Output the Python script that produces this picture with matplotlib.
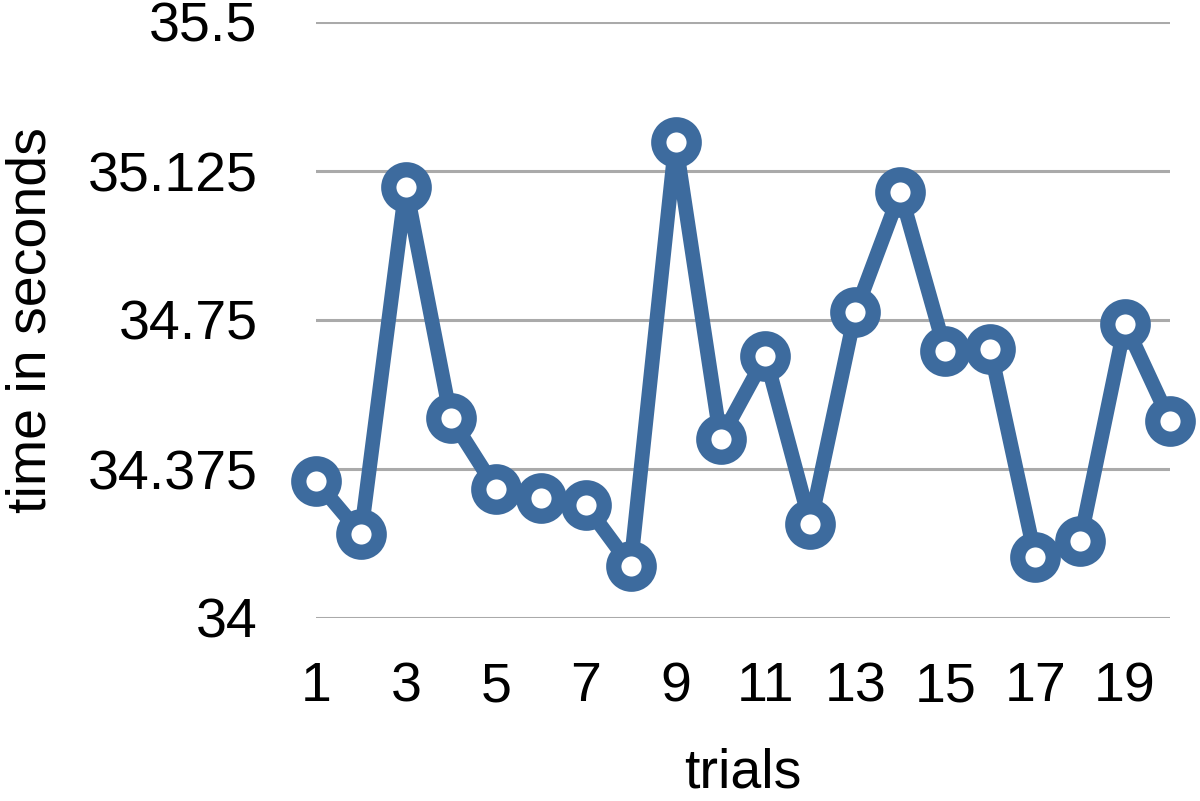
import numpy as np
import matplotlib.pyplot as plt

# ---------------- data ----------------
trials = list(range(1, 21))
times = [34.345, 34.211, 35.085, 34.503, 34.325, 34.302, 34.284, 34.131, 35.198, 34.451,
         34.659, 34.237, 34.770, 35.072, 34.672, 34.677, 34.154, 34.194, 34.740, 34.496]
yticks = [34, 34.375, 34.75, 35.125, 35.5]
yticklabels = ['34', '34.375', '34.75', '35.125', '35.5']
xticks = [1, 3, 5, 7, 9, 11, 13, 15, 17, 19]

plt.rcParams['font.family'] = ['Liberation Sans', 'DejaVu Sans']

fig = plt.figure(figsize=(12, 8.01), dpi=100)
ax = fig.add_axes([316/1200, 1-618/801, (1170-316)/1200, (618-22)/801])

blue = '#3d6b9e'
ax.plot(trials, times, color=blue, lw=10.5, marker='o', ms=25.5, mew=11,
        mfc='white', mec=blue, clip_on=False, zorder=3, solid_joinstyle='round')

ax.set_xlim(1, 20)
ax.set_ylim(34, 35.5)
ax.set_yticks(yticks)
ax.set_yticklabels(yticklabels)
ax.set_xticks(xticks)

ax.grid(axis='y', color='#aaaaaa', lw=2.2)
ax.set_axisbelow(True)
for sp in ax.spines.values():
    sp.set_visible(False)
ax.tick_params(axis='both', length=0, labelsize=40)
ax.tick_params(axis='y', pad=42)
ax.tick_params(axis='x', pad=31)

ax.set_xlabel('trials', fontsize=40, labelpad=25)
ax.set_ylabel('time in seconds', fontsize=40, labelpad=22)

fig.savefig('out.png', dpi=100)
